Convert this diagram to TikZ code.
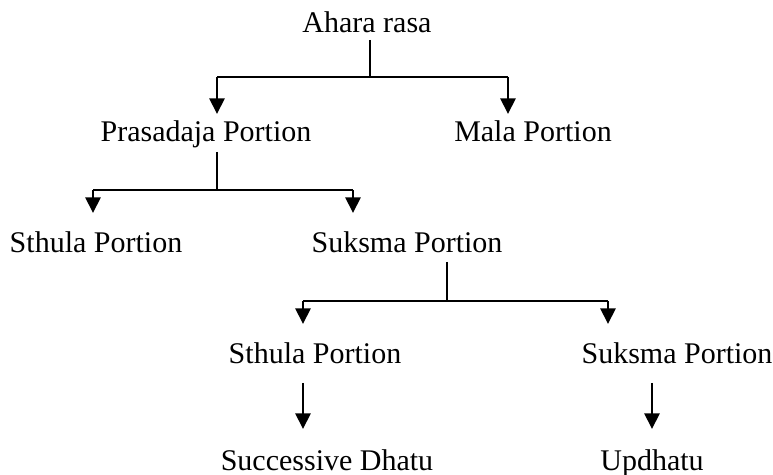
\documentclass[tikz,border=0pt]{standalone}
\usepackage{fontspec}
\setmainfont{Liberation Serif}
\usetikzlibrary{arrows.meta}
\begin{document}
\begin{tikzpicture}[x=0.5pt,y=-0.5pt,
  lbl/.style={anchor=base,inner sep=0pt,font=\fontsize{15}{18}\selectfont},
  conn/.style={line width=0.85pt},
  arr/.style={conn,-{Triangle[width=7.6pt,length=7.8pt]}}]
\useasboundingbox (0,0) rectangle (773,475);
% nodes
\node[lbl] (ahara) at (367,33) {Ahara rasa};
\node[lbl] (prasad) at (206,142) {Prasadaja Portion};
\node[lbl] (mala) at (533,142) {Mala Portion};
\node[lbl] (sthulaA) at (96,253) {Sthula Portion};
\node[lbl] (suksmaA) at (407,253) {Suksma Portion};
\node[lbl] (sthulaB) at (315,364) {Sthula Portion};
\node[lbl] (suksmaB) at (677,364) {Suksma Portion};
\node[lbl] (succ) at (327,471) {Successive Dhatu};
\node[lbl] (upd) at (652,471) {Updhatu};
% junction coordinates
\coordinate (a0) at (370,40);
\coordinate (a1) at (370,77);
\coordinate (aL) at (217,77);
\coordinate (aR) at (508,77);
\coordinate (aLt) at (217,114);
\coordinate (aRt) at (508,114);
\coordinate (p0) at (217,152);
\coordinate (p1) at (217,190);
\coordinate (pL) at (93,190);
\coordinate (pR) at (353,190);
\coordinate (pLt) at (93,213);
\coordinate (pRt) at (353,213);
\coordinate (s0) at (447,262);
\coordinate (s1) at (447,301);
\coordinate (sL) at (303,301);
\coordinate (sR) at (608,301);
\coordinate (sLt) at (303,324);
\coordinate (sRt) at (608,324);
\coordinate (b0) at (303,383);
\coordinate (b1) at (303,429);
\coordinate (c0) at (652,383);
\coordinate (c1) at (652,429);
% connectors
\draw[conn] (a0) -- (a1);
\draw[conn] (aL) -- (aR);
\draw[arr] (aL) -- (aLt);
\draw[arr] (aR) -- (aRt);
\draw[conn] (p0) -- (p1);
\draw[conn] (pL) -- (pR);
\draw[arr] (pL) -- (pLt);
\draw[arr] (pR) -- (pRt);
\draw[conn] (s0) -- (s1);
\draw[conn] (sL) -- (sR);
\draw[arr] (sL) -- (sLt);
\draw[arr] (sR) -- (sRt);
\draw[arr] (b0) -- (b1);
\draw[arr] (c0) -- (c1);
\end{tikzpicture}
\end{document}
